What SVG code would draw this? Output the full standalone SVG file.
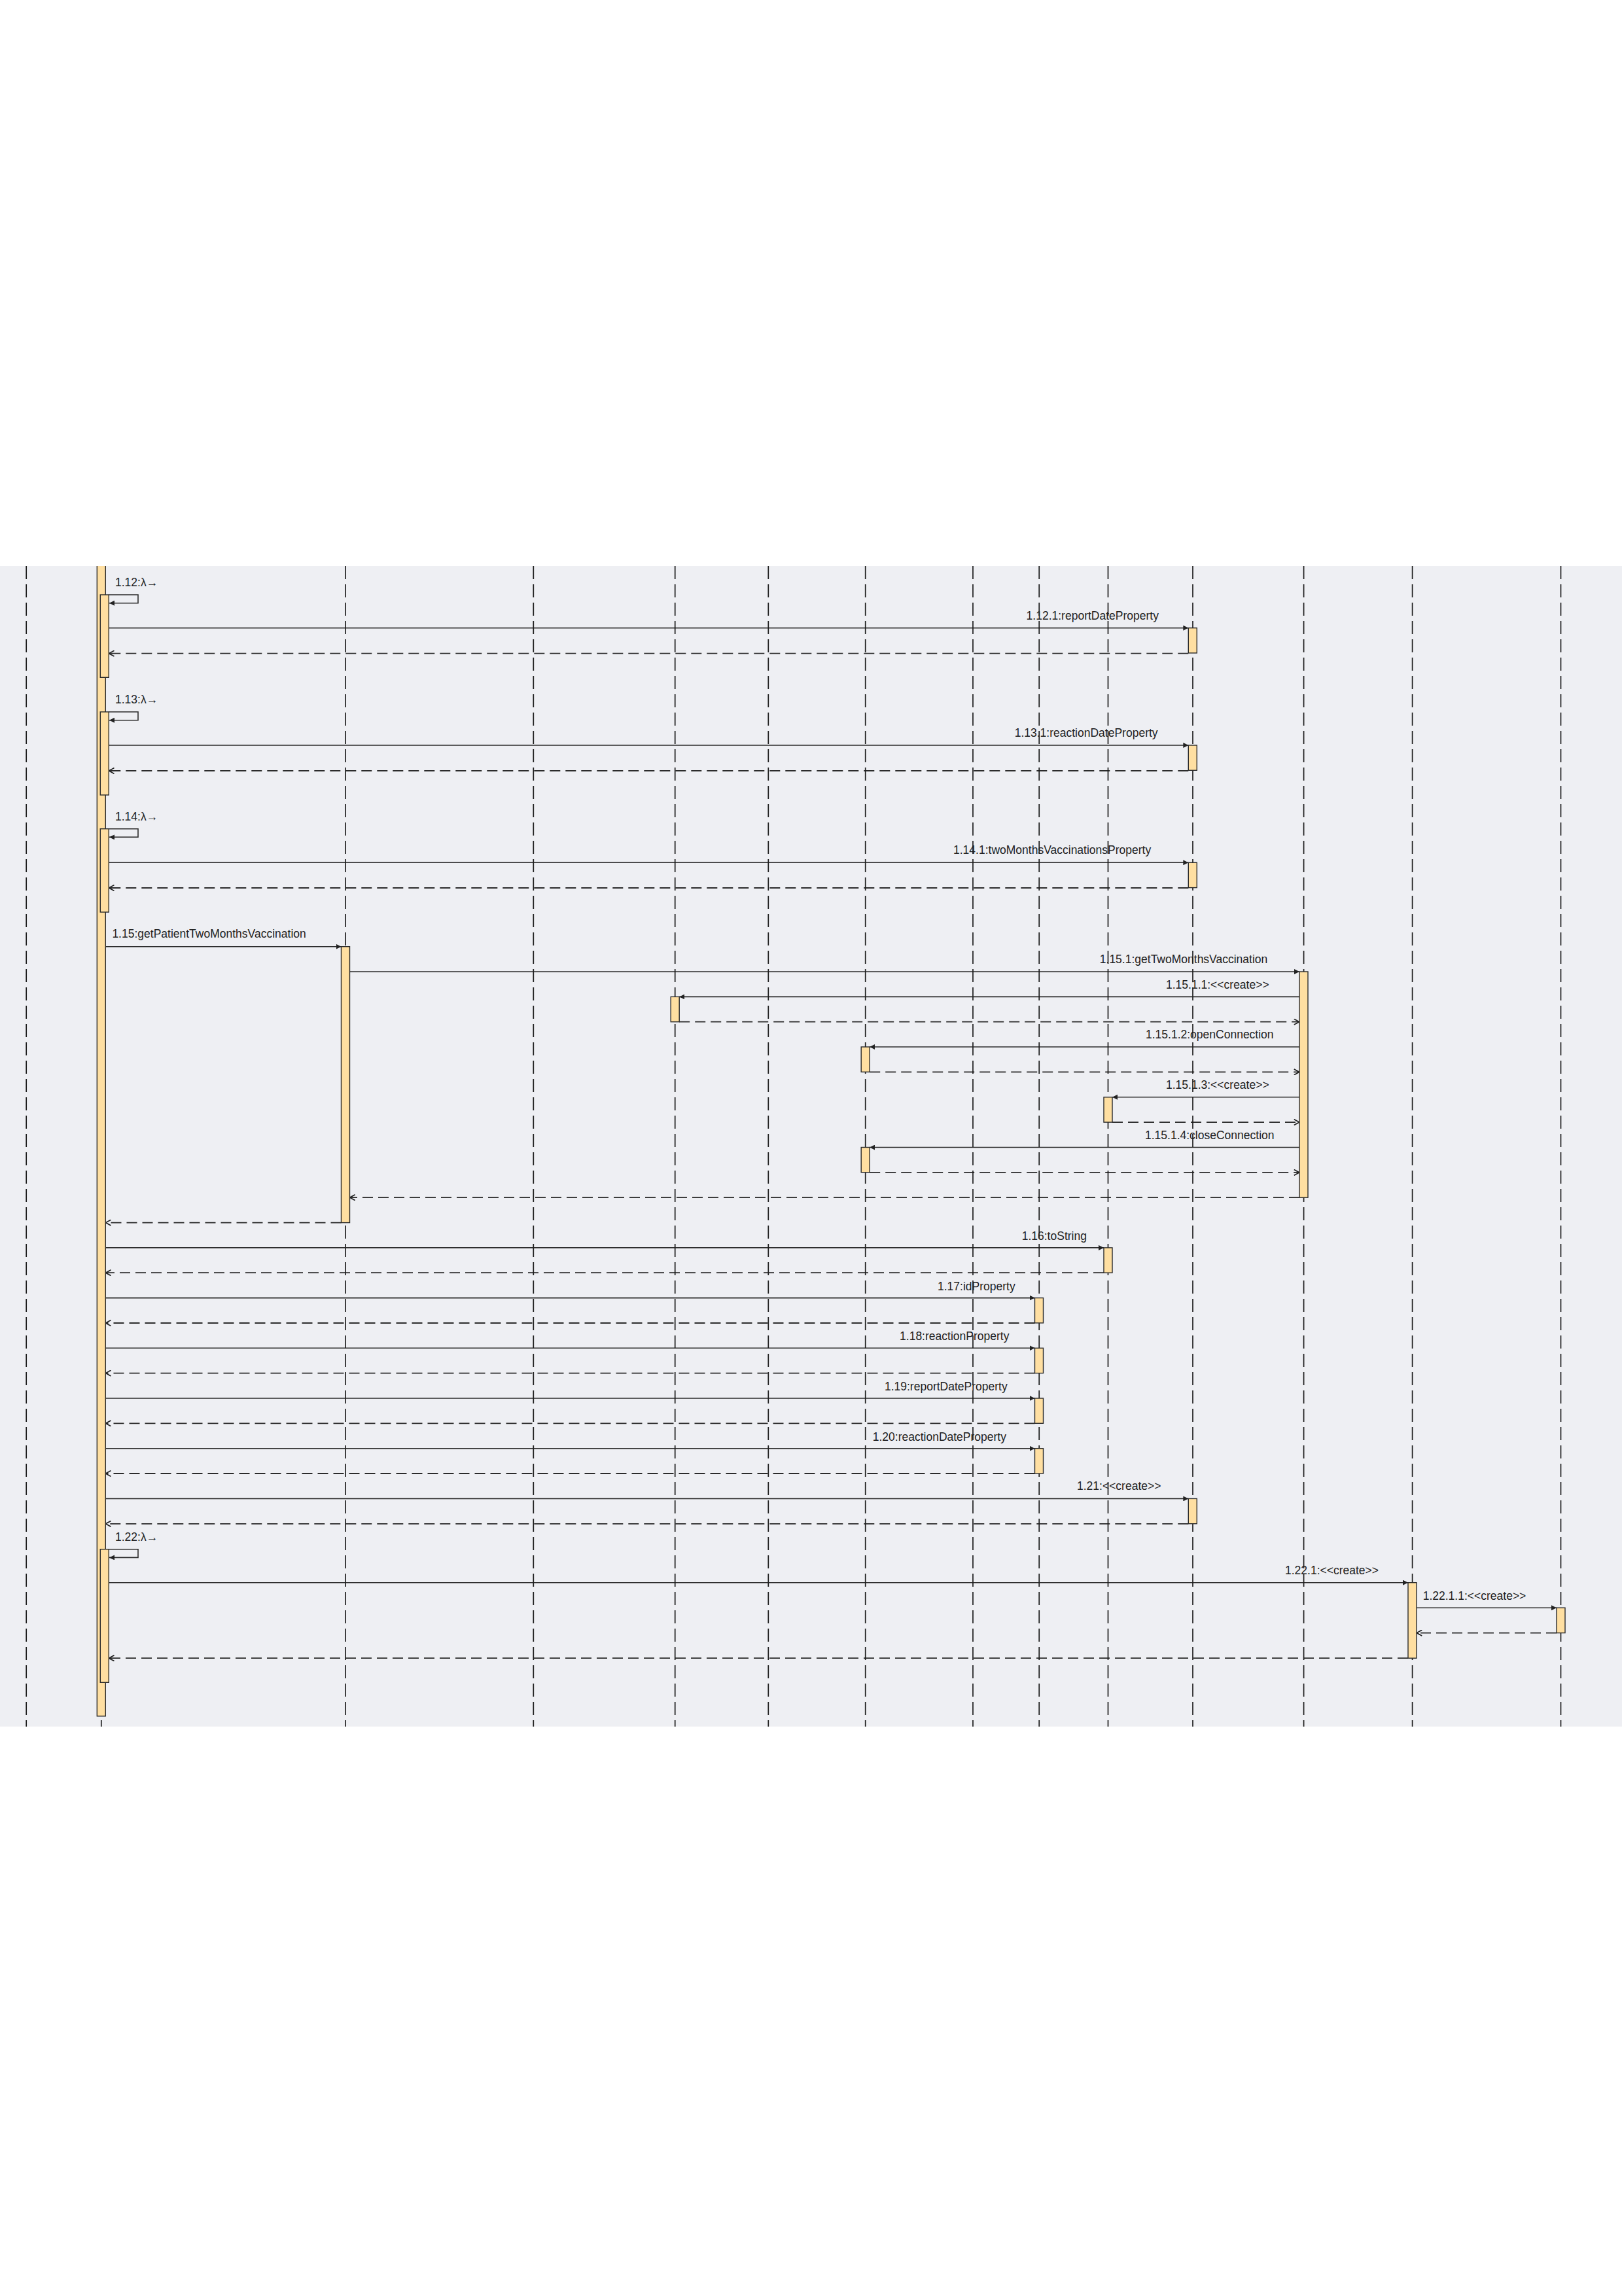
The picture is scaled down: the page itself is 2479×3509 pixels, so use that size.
<svg xmlns="http://www.w3.org/2000/svg" width="2479" height="3509" viewBox="0 0 2479 3509">
<style>
.life{stroke:#1e1e1e;stroke-width:1.7;stroke-dasharray:20 8;fill:none}
.bar{fill:#FFDFA1;stroke:#2b2b2b;stroke-width:1.4}
.msg{stroke:#2b2b2b;stroke-width:1.6;fill:none}
.ret{stroke:#2b2b2b;stroke-width:1.8;fill:none;stroke-dasharray:16 8}
.lbl{font-family:"Liberation Sans",Arial,sans-serif;font-size:17.5px;fill:#222}
</style>
<defs>
<marker id="fa" viewBox="0 0 8 8" refX="8" refY="4" markerWidth="8" markerHeight="8" orient="auto" markerUnits="userSpaceOnUse"><path d="M0,0 L8,4 L0,8 z" fill="#222"/></marker>
<marker id="oa" viewBox="0 0 10 10" refX="9.2" refY="5" markerWidth="10" markerHeight="10" orient="auto" markerUnits="userSpaceOnUse"><path d="M1,0.6 L9,5 L1,9.4" fill="none" stroke="#222" stroke-width="1.7"/></marker>
</defs>
<rect x="0" y="0" width="2479" height="3509" fill="#ffffff"/>
<rect x="0" y="865" width="2479" height="1773.7" fill="#EEEFF3"/>

<g id="labels">
<text class="lbl" x="176" y="895.5">1.12:λ→</text>
<text class="lbl" x="1568.6" y="946.5">1.12.1:reportDateProperty</text>
<text class="lbl" x="176" y="1074.5">1.13:λ→</text>
<text class="lbl" x="1550.7" y="1126">1.13.1:reactionDateProperty</text>
<text class="lbl" x="176" y="1253.5">1.14:λ→</text>
<text class="lbl" x="1457" y="1305">1.14.1:twoMonthsVaccinationsProperty</text>
<text class="lbl" x="171.4" y="1433">1.15:getPatientTwoMonthsVaccination</text>
<text class="lbl" x="1680.8" y="1471.7">1.15.1:getTwoMonthsVaccination</text>
<text class="lbl" x="1782" y="1510.5">1.15.1.1:&lt;&lt;create&gt;&gt;</text>
<text class="lbl" x="1751" y="1587">1.15.1.2:openConnection</text>
<text class="lbl" x="1782" y="1663.5">1.15.1.3:&lt;&lt;create&gt;&gt;</text>
<text class="lbl" x="1750" y="1740.5">1.15.1.4:closeConnection</text>
<text class="lbl" x="1561.7" y="1894.5">1.16:toString</text>
<text class="lbl" x="1433" y="1971.5">1.17:idProperty</text>
<text class="lbl" x="1542.4" y="2048" text-anchor="end">1.18:reactionProperty</text>
<text class="lbl" x="1539.7" y="2125" text-anchor="end">1.19:reportDateProperty</text>
<text class="lbl" x="1538" y="2201.5" text-anchor="end">1.20:reactionDateProperty</text>
<text class="lbl" x="1646" y="2277">1.21:&lt;&lt;create&gt;&gt;</text>
<text class="lbl" x="176" y="2355">1.22:λ→</text>
<text class="lbl" x="1964" y="2405.5">1.22.1:&lt;&lt;create&gt;&gt;</text>
<text class="lbl" x="2174.7" y="2444.5">1.22.1.1:&lt;&lt;create&gt;&gt;</text>
</g>

<g id="connectors">
<path class="msg" d="M166.3,909 H211 V921.7 H167" marker-end="url(#fa)"/>
<line class="msg" x1="166.3" y1="959.7" x2="1816.3" y2="959.7" marker-end="url(#fa)"/>
<line class="ret" x1="1816.3" y1="998.7" x2="166.3" y2="998.7" marker-end="url(#oa)"/>
<path class="msg" d="M166.3,1088 H211 V1100.7 H167" marker-end="url(#fa)"/>
<line class="msg" x1="166.3" y1="1139" x2="1816.3" y2="1139" marker-end="url(#fa)"/>
<line class="ret" x1="1816.3" y1="1178" x2="166.3" y2="1178" marker-end="url(#oa)"/>
<path class="msg" d="M166.3,1266.7 H211 V1279.4 H167" marker-end="url(#fa)"/>
<line class="msg" x1="166.3" y1="1318.3" x2="1816.3" y2="1318.3" marker-end="url(#fa)"/>
<line class="ret" x1="1816.3" y1="1357" x2="166.3" y2="1357" marker-end="url(#oa)"/>
<line class="msg" x1="161.3" y1="1446.7" x2="521.5" y2="1446.7" marker-end="url(#fa)"/>
<line class="msg" x1="534.5" y1="1485" x2="1986" y2="1485" marker-end="url(#fa)"/>
<line class="msg" x1="1986" y1="1523.4" x2="1038.2" y2="1523.4" marker-end="url(#fa)"/>
<line class="ret" x1="1038.2" y1="1561.7" x2="1986" y2="1561.7" marker-end="url(#oa)"/>
<line class="msg" x1="1986" y1="1600" x2="1329.2" y2="1600" marker-end="url(#fa)"/>
<line class="ret" x1="1329.2" y1="1638.4" x2="1986" y2="1638.4" marker-end="url(#oa)"/>
<line class="msg" x1="1986" y1="1676.8" x2="1700" y2="1676.8" marker-end="url(#fa)"/>
<line class="ret" x1="1700" y1="1715.1" x2="1986" y2="1715.1" marker-end="url(#oa)"/>
<line class="msg" x1="1986" y1="1753.5" x2="1329.2" y2="1753.5" marker-end="url(#fa)"/>
<line class="ret" x1="1329.2" y1="1791.9" x2="1986" y2="1791.9" marker-end="url(#oa)"/>
<line class="ret" x1="1986" y1="1830.2" x2="534.5" y2="1830.2" marker-end="url(#oa)"/>
<line class="ret" x1="521.5" y1="1868.6" x2="161.3" y2="1868.6" marker-end="url(#oa)"/>
<line class="msg" x1="161.3" y1="1906.9" x2="1687" y2="1906.9" marker-end="url(#fa)"/>
<line class="ret" x1="1687" y1="1945.2" x2="161.3" y2="1945.2" marker-end="url(#oa)"/>
<line class="msg" x1="161.3" y1="1983.6" x2="1581.5" y2="1983.6" marker-end="url(#fa)"/>
<line class="ret" x1="1581.5" y1="2022" x2="161.3" y2="2022" marker-end="url(#oa)"/>
<line class="msg" x1="161.3" y1="2060.3" x2="1581.5" y2="2060.3" marker-end="url(#fa)"/>
<line class="ret" x1="1581.5" y1="2098.6" x2="161.3" y2="2098.6" marker-end="url(#oa)"/>
<line class="msg" x1="161.3" y1="2137" x2="1581.5" y2="2137" marker-end="url(#fa)"/>
<line class="ret" x1="1581.5" y1="2175.3" x2="161.3" y2="2175.3" marker-end="url(#oa)"/>
<line class="msg" x1="161.3" y1="2213.7" x2="1581.5" y2="2213.7" marker-end="url(#fa)"/>
<line class="ret" x1="1581.5" y1="2252" x2="161.3" y2="2252" marker-end="url(#oa)"/>
<line class="msg" x1="161.3" y1="2290.4" x2="1816.3" y2="2290.4" marker-end="url(#fa)"/>
<line class="ret" x1="1816.3" y1="2328.8" x2="161.3" y2="2328.8" marker-end="url(#oa)"/>
<path class="msg" d="M166.3,2367.7 H211 V2380.4 H167" marker-end="url(#fa)"/>
<line class="msg" x1="166.3" y1="2418.7" x2="2152" y2="2418.7" marker-end="url(#fa)"/>
<line class="msg" x1="2165" y1="2457.2" x2="2379" y2="2457.2" marker-end="url(#fa)"/>
<line class="ret" x1="2379" y1="2495.6" x2="2165" y2="2495.6" marker-end="url(#oa)"/>
<line class="ret" x1="2152" y1="2534.2" x2="166.3" y2="2534.2" marker-end="url(#oa)"/>
</g>

<g id="lifelines">
<line id="ll0" class="life" x1="40.2" y1="865" x2="40.2" y2="2638.7"/>
<line id="ll1" class="life" x1="154.8" y1="865" x2="154.8" y2="2638.7"/>
<line id="ll2" class="life" x1="528" y1="865" x2="528" y2="2638.7"/>
<line id="ll3" class="life" x1="815.3" y1="865" x2="815.3" y2="2638.7"/>
<line id="ll4" class="life" x1="1031.7" y1="865" x2="1031.7" y2="2638.7"/>
<line id="ll5" class="life" x1="1174.3" y1="865" x2="1174.3" y2="2638.7"/>
<line id="ll6" class="life" x1="1322.7" y1="865" x2="1322.7" y2="2638.7"/>
<line id="ll7" class="life" x1="1487" y1="865" x2="1487" y2="2638.7"/>
<line id="ll8" class="life" x1="1588.2" y1="865" x2="1588.2" y2="2638.7"/>
<line id="ll9" class="life" x1="1693.5" y1="865" x2="1693.5" y2="2638.7"/>
<line id="ll10" class="life" x1="1823" y1="865" x2="1823" y2="2638.7"/>
<line id="ll11" class="life" x1="1992.6" y1="865" x2="1992.6" y2="2638.7"/>
<line id="ll12" class="life" x1="2158.6" y1="865" x2="2158.6" y2="2638.7"/>
<line id="ll13" class="life" x1="2385.5" y1="865" x2="2385.5" y2="2638.7"/>
</g>

<g id="act-main">
<rect x="148.3" y="865" width="13" height="1757.7" fill="#FFDFA1"/>
<path d="M148.3,865 V2622.7 H161.3 V865" fill="none" stroke="#2b2b2b" stroke-width="1.4"/>
</g>
<g id="act-112"><rect class="bar" x="153.3" y="909" width="13" height="126.3"/></g>
<g id="act-113"><rect class="bar" x="153.3" y="1088" width="13" height="127"/></g>
<g id="act-114"><rect class="bar" x="153.3" y="1266.7" width="13" height="127.3"/></g>
<g id="act-122"><rect class="bar" x="153.3" y="2367.7" width="13" height="203.6"/></g>
<g id="act-1121"><rect class="bar" x="1816.3" y="959.7" width="13" height="38.3"/></g>
<g id="act-1131"><rect class="bar" x="1816.3" y="1139" width="13" height="38.3"/></g>
<g id="act-1141"><rect class="bar" x="1816.3" y="1318.3" width="13" height="38.3"/></g>
<g id="act-121"><rect class="bar" x="1816.3" y="2290.4" width="13" height="38.3"/></g>
<g id="act-115"><rect class="bar" x="521.5" y="1446.7" width="13" height="421.9"/></g>
<g id="act-1151"><rect class="bar" x="1986" y="1485" width="13" height="345.2"/></g>
<g id="act-11511"><rect class="bar" x="1025.2" y="1523.4" width="13" height="38.3"/></g>
<g id="act-11512"><rect class="bar" x="1316.2" y="1600" width="13" height="38.3"/></g>
<g id="act-11513"><rect class="bar" x="1687" y="1676.8" width="13" height="38.3"/></g>
<g id="act-11514"><rect class="bar" x="1316.2" y="1753.5" width="13" height="38.3"/></g>
<g id="act-116"><rect class="bar" x="1687" y="1906.9" width="13" height="38.3"/></g>
<g id="act-117"><rect class="bar" x="1581.5" y="1983.6" width="13" height="38.3"/></g>
<g id="act-118"><rect class="bar" x="1581.5" y="2060.3" width="13" height="38.3"/></g>
<g id="act-119"><rect class="bar" x="1581.5" y="2137" width="13" height="38.3"/></g>
<g id="act-120"><rect class="bar" x="1581.5" y="2213.7" width="13" height="38.3"/></g>
<g id="act-1221"><rect class="bar" x="2152" y="2418.7" width="13" height="115.5"/></g>
<g id="act-12211"><rect class="bar" x="2379" y="2457.2" width="13" height="38.4"/></g>
</svg>
